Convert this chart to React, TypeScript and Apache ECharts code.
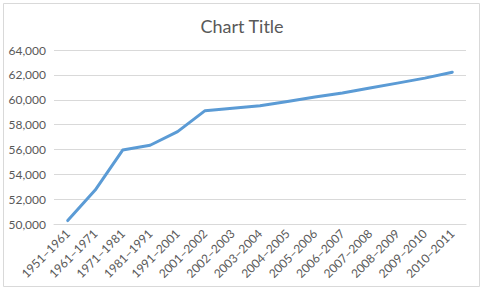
import React, { useEffect, useRef } from "react";
import * as echarts from "echarts";

const categories: string[] = [
  "1951–1961", "1961–1971", "1971–1981", "1981–1991", "1991–2001",
  "2001–2002", "2002–2003", "2003–2004", "2004–2005", "2005–2006",
  "2006–2007", "2007–2008", "2008–2009", "2009–2010", "2010–2011",
];
const values: number[] = [
  50300, 52750, 55960, 56350, 57440,
  59130, 59330, 59520, 59860, 60220,
  60540, 60940, 61340, 61740, 62220,
];
const yMin = 50000;
const yMax = 64000;
const yStep = 2000;
const title = "Chart Title";

const FONT = "Lato, 'Liberation Sans', sans-serif";
const TEXT = "#595959";
const GRID = "#D9D9D9";

export default function App() {
  const ref = useRef<HTMLDivElement>(null);
  useEffect(() => {
    if (!ref.current) return;
    const chart = echarts.init(ref.current, undefined, { renderer: "svg" });
    chart.setOption({
      animation: false,
      backgroundColor: "#ffffff",
      title: {
        text: title,
        left: "center",
        top: 12,
        textStyle: { fontFamily: FONT, fontSize: 18, fontWeight: "normal", color: TEXT },
      },
      graphic: [
        {
          type: "rect",
          shape: { x: 3.5, y: 3.5, width: 476, height: 283 },
          style: { fill: "none", stroke: GRID, lineWidth: 1 },
        },
      ],
      grid: { left: 54, right: 18, top: 50, bottom: 66.7, containLabel: false },
      xAxis: {
        type: "category",
        data: categories,
        boundaryGap: true,
        axisLine: { show: true, lineStyle: { color: GRID } },
        axisTick: { show: false },
        axisLabel: {
          rotate: 45,
          interval: 0,
          margin: 7,
          fontFamily: FONT,
          fontSize: 12,
          color: TEXT,
        },
      },
      yAxis: {
        type: "value",
        min: yMin,
        max: yMax,
        interval: yStep,
        axisLine: { show: false },
        axisTick: { show: false },
        splitLine: { lineStyle: { color: GRID, width: 1 } },
        axisLabel: {
          margin: 8,
          fontFamily: FONT,
          fontSize: 12,
          color: TEXT,
          formatter: (v: number) => v.toLocaleString("en-US"),
        },
      },
      series: [
        {
          type: "line",
          data: values,
          showSymbol: false,
          symbol: "none",
          lineStyle: { color: "#5B9BD5", width: 3, cap: "round", join: "round" },
        },
      ],
    });
    return () => chart.dispose();
  }, []);
  return (
    <div
      ref={ref}
      style={{ position: "fixed", left: 0, top: 0, width: 484, height: 291 }}
    />
  );
}
